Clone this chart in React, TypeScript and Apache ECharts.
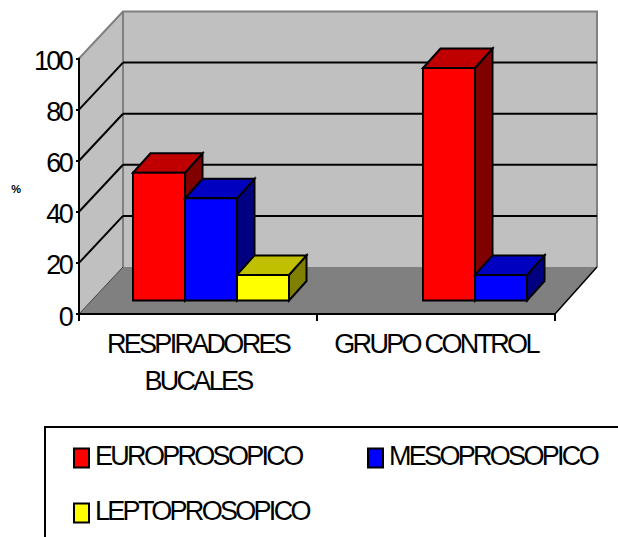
import React, { useEffect, useRef } from "react";
import * as echarts from "echarts";

const categories = ["RESPIRADORES\nBUCALES", "GRUPO CONTROL"];
const yTicks = [0, 20, 40, 60, 80, 100];
const seriesNames = ["EUROPROSOPICO", "MESOPROSOPICO", "LEPTOPROSOPICO"];
const europrosopico = [50, 91];
const mesoprosopico = [40, 10];
const leptoprosopico = [10, null];
// which of the three places in each category every series occupies
const europrosopicoPlace = [0, 1];
const mesoprosopicoPlace = [1, 2];
const leptoprosopicoPlace = [2, 2];
const frontColors = ["#FF0000", "#0000FF", "#FFFF00"];
const topColors = ["#C00000", "#0000C0", "#C0C000"];
const sideColors = ["#800000", "#000080", "#808000"];

const FONT = "Liberation Sans";
const WALL_DX = 44;
const WALL_DY = -47;
const BAR_SHIFT_X = 13;
const BAR_SHIFT_Y = -13.5;
const BAR_DX = 17.5;
const BAR_DY = -19.5;
const PLACE_RATIO = 0.2185;

function pts(list: number[][]) {
  return { points: list };
}

function renderWalls(params: any, api: any) {
  const cs = params.coordSys;
  const l = cs.x, r = cs.x + cs.width, t = cs.y, b = cs.y + cs.height;
  const bl = l + WALL_DX, br = r + WALL_DX - 2, bt = t + WALL_DY, bb = b + WALL_DY;
  return {
    type: "group",
    children: [
      { type: "polygon", shape: pts([[bl, bt], [br, bt], [br, bb], [bl, bb]]), style: { fill: "#C0C0C0" } },
      { type: "polygon", shape: pts([[l, t], [bl, bt], [bl, bb], [l, b]]), style: { fill: "#C0C0C0" } },
      { type: "polygon", shape: pts([[l, b], [bl, bb], [br, bb], [r, b]]), style: { fill: "#808080" } },
      {
        type: "polyline",
        shape: pts([[l, t], [bl, bt], [br, bt], [br, bb]]),
        style: { fill: "none", stroke: "#808080", lineWidth: 2 },
      },
      { type: "line", shape: { x1: bl, y1: bt, x2: bl, y2: bb }, style: { stroke: "#808080", lineWidth: 2 } },
      { type: "line", shape: { x1: l, y1: b, x2: bl, y2: bb }, style: { stroke: "#404040", lineWidth: 1 } },
      { type: "line", shape: { x1: r, y1: b, x2: br, y2: bb }, style: { stroke: "#000", lineWidth: 1.5 } },
    ],
  };
}

function renderGridLine(params: any, api: any) {
  const v = api.value(0);
  if (v === 0 || v === 100) return { type: "group", children: [] };
  const cs = params.coordSys;
  const y = api.coord([0, v])[1];
  const bl = cs.x + WALL_DX, br = cs.x + cs.width + WALL_DX - 2, by = y + WALL_DY;
  return {
    type: "group",
    children: [
      { type: "line", shape: { x1: cs.x, y1: y, x2: bl, y2: by }, style: { stroke: "#000", lineWidth: 2 } },
      { type: "line", shape: { x1: bl, y1: by, x2: br, y2: by }, style: { stroke: "#000", lineWidth: 2 } },
    ],
  };
}

function barRenderer(si: number) {
  return (params: any, api: any) => {
    const cat = api.value(0);
    const val = api.value(1);
    const place = api.value(2);
    const cw = api.size([1, 0])[0];
    const w = cw * PLACE_RATIO;
    const cx = api.coord([cat, 0])[0];
    const x0 = cx - 1.5 * w + place * w + BAR_SHIFT_X;
    const x1 = x0 + w;
    const yb = api.coord([cat, 0])[1] + BAR_SHIFT_Y;
    const yt = api.coord([cat, val])[1] + BAR_SHIFT_Y;
    const edge = { stroke: "#000", lineWidth: 2, lineJoin: "miter" };
    return {
      type: "group",
      children: [
        {
          type: "polygon",
          shape: pts([[x1, yb], [x1 + BAR_DX, yb + BAR_DY], [x1 + BAR_DX, yt + BAR_DY], [x1, yt]]),
          style: { fill: sideColors[si], ...edge },
        },
        {
          type: "polygon",
          shape: pts([[x0, yt], [x0 + BAR_DX, yt + BAR_DY], [x1 + BAR_DX, yt + BAR_DY], [x1, yt]]),
          style: { fill: topColors[si], ...edge },
        },
        {
          type: "polygon",
          shape: pts([[x0, yb], [x0, yt], [x1, yt], [x1, yb]]),
          style: { fill: frontColors[si], ...edge },
        },
      ],
    };
  };
}

function barData(values: (number | null)[], places: number[]) {
  return values
    .map((v, i) => (v === null ? null : [i, v, places[i]]))
    .filter((d) => d !== null);
}

const legendText = {
  fontFamily: FONT,
  fontSize: 27,
  color: "#000",
  rich: {
    t: { fontFamily: FONT, fontSize: 27, color: "#000", lineHeight: 26, padding: [0, 0, 5, 1] },
  },
};
function legendItem(i: number) {
  return {
    name: seriesNames[i],
    itemStyle: { color: frontColors[i], borderColor: "#000", borderWidth: 2 },
  };
}

export default function App() {
  const ref = useRef<HTMLDivElement>(null);
  useEffect(() => {
    const chart = echarts.init(ref.current!, undefined, { renderer: "svg" });
    const barValues = [europrosopico, mesoprosopico, leptoprosopico];
    const barPlaces = [europrosopicoPlace, mesoprosopicoPlace, leptoprosopicoPlace];
    chart.setOption({
      animation: false,
      backgroundColor: "#fff",
      tooltip: { show: false },
      grid: { left: 79, top: 58.5, width: 476, height: 255.5, containLabel: false },
      graphic: [
        {
          type: "rect",
          x: 45,
          y: 427,
          shape: { width: 700, height: 200 },
          style: { fill: "none", stroke: "#000", lineWidth: 2 },
          silent: true,
        },
      ],
      legend: [
        {
          left: 73,
          top: 442,
          orient: "vertical",
          icon: "rect",
          itemWidth: 15,
          itemHeight: 19,
          itemGap: 23,
          padding: 0,
          selectedMode: false,
          formatter: "{t|{name}}",
          textStyle: legendText,
          data: [legendItem(0), legendItem(2)],
        },
        {
          left: 367,
          top: 442,
          orient: "vertical",
          icon: "rect",
          itemWidth: 15,
          itemHeight: 19,
          padding: 0,
          selectedMode: false,
          formatter: "{t|{name}}",
          textStyle: legendText,
          data: [legendItem(1)],
        },
      ],
      xAxis: {
        type: "category",
        data: categories,
        z: 10,
        boundaryGap: true,
        axisLine: { lineStyle: { color: "#000", width: 2 } },
        axisTick: { show: true, length: 7, lineStyle: { color: "#000", width: 2 }, alignWithLabel: false },
        axisLabel: {
          interval: 0,
          margin: 11,
          fontFamily: FONT,
          fontSize: 27,
          lineHeight: 37,
          color: "#000",
          hideOverlap: false,
        },
      },
      yAxis: {
        type: "value",
        min: 0,
        max: 100,
        interval: 20,
        z: 10,
        name: "{p|%}",
        nameLocation: "middle",
        nameRotate: 0,
        nameGap: 56,
        nameTextStyle: {
          rich: {
            p: { fontFamily: FONT, fontSize: 11, fontWeight: "bold", color: "#000", padding: [6, 0, 0, 0] },
          },
        },
        splitLine: { show: false },
        axisLine: { show: true, lineStyle: { color: "#000", width: 2 } },
        axisTick: { show: true, length: 3, lineStyle: { color: "#000", width: 2 } },
        axisLabel: {
          margin: 8,
          formatter: "{n|{value}}",
          rich: { n: { fontFamily: FONT, fontSize: 27, color: "#000", padding: [5, 0, 0, 0] } },
        },
      },
      series: [
        {
          type: "custom",
          name: "walls",
          coordinateSystem: "cartesian2d",
          renderItem: renderWalls,
          data: [[0, 0]],
          silent: true,
          clip: false,
          z: 1,
        },
        {
          type: "custom",
          name: "gridlines",
          coordinateSystem: "cartesian2d",
          renderItem: renderGridLine,
          encode: { y: 0 },
          data: yTicks.map((v) => [v]),
          silent: true,
          clip: false,
          z: 1,
        },
        ...seriesNames.map((name, i) => ({
          type: "custom",
          name,
          coordinateSystem: "cartesian2d",
          renderItem: barRenderer(i),
          encode: { x: 0, y: 1 },
          itemStyle: { color: frontColors[i] },
          data: barData(barValues[i], barPlaces[i]),
          silent: true,
          clip: false,
          z: 2,
        })),
      ],
    });
    return () => chart.dispose();
  }, []);
  return (
    <>
      <style>{`svg text { letter-spacing: -0.1em; }`}</style>
      <div ref={ref} style={{ position: "absolute", left: 0, top: 0, width: 618, height: 537 }} />
    </>
  );
}
